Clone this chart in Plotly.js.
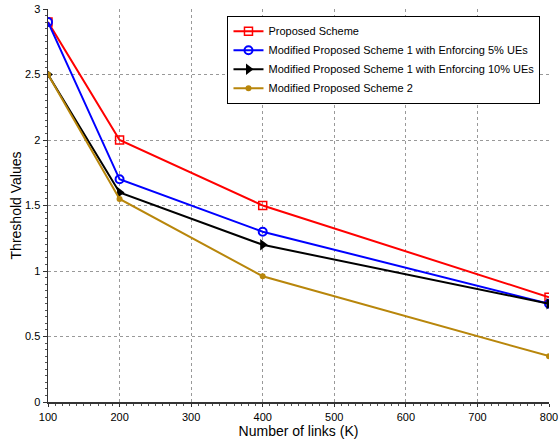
<!DOCTYPE html>
<html><head><meta charset="utf-8">
<script src="https://cdn.plot.ly/plotly-3.0.1.min.js"></script>
<style>html,body{margin:0;padding:0;background:#fff}</style>
</head><body><div id="chart" style="width:560px;height:439px"></div>
<script>
var links = [100, 200, 400, 800];
var proposed = [2.9, 2.0, 1.5, 0.8];
var mod5 = [2.9, 1.7, 1.3, 0.75];
var mod10 = [2.5, 1.6, 1.2, 0.75];
var scheme2 = [2.5, 1.55, 0.96, 0.35];
var names = ['Proposed Scheme','Modified Proposed Scheme 1 with Enforcing 5% UEs','Modified Proposed Scheme 1 with Enforcing 10% UEs','Modified Proposed Scheme 2'];
var xTicks = [100,200,300,400,500,600,700,800];
var yTicks = [0,0.5,1,1.5,2,2.5,3];

var traces = [
 {x: links, y: proposed, name: names[0], mode:'lines+markers', line:{color:'#ff0000', width:2}, marker:{symbol:'square-open', size:8, color:'#ff0000', line:{width:1.5}}},
 {x: links, y: mod5, name: names[1], mode:'lines+markers', line:{color:'#0000ff', width:2}, marker:{symbol:'circle-open', size:8, color:'#0000ff', line:{width:2}}},
 {x: links, y: mod10, name: names[2], mode:'lines+markers', line:{color:'#000000', width:2}, marker:{symbol:'triangle-right', size:10, color:'#000000'}},
 {x: links, y: scheme2, name: names[3], mode:'lines+markers', line:{color:'#b8860b', width:2}, marker:{symbol:'circle', size:6, color:'#b8860b'}}
];
var layout = {
 width:560, height:439,
 margin:{l:48, r:11, t:9, b:37},
 paper_bgcolor:'#fff', plot_bgcolor:'#fff',
 font:{family:'Liberation Sans, Arial, sans-serif', size:11, color:'#000'},
 showlegend:true,
 legend:{x:0.983, y:0.983, xanchor:'right', yanchor:'top', bgcolor:'#fff', bordercolor:'#000', borderwidth:1, font:{size:11}, tracegroupgap:0, itemwidth:30},
 xaxis:{range:[100,800], tickvals:xTicks, ticktext:xTicks.map(String), ticks:'outside', ticklen:3, tickcolor:'#333', ticklabelstandoff:1,
   minor:{dtick:10, ticks:'outside', ticklen:2, tickcolor:'#555', showgrid:false},
   showline:true, linecolor:'#333', linewidth:1.5, mirror:false, showgrid:true, gridcolor:'#999', griddash:'dot', zeroline:false,
   title:{text:'Number of links (K)', font:{size:14}, standoff:4}},
 yaxis:{range:[0,3], tickvals:yTicks, ticktext:yTicks.map(String), ticks:'outside', ticklen:4, tickcolor:'#333',
   minor:{dtick:0.05, ticks:'outside', ticklen:2, tickcolor:'#555', showgrid:false},
   showline:true, linecolor:'#333', linewidth:1.5, showgrid:true, gridcolor:'#999', griddash:'dot', zeroline:false,
   title:{text:'Threshold Values', font:{size:14}, standoff:0}}
};
Plotly.newPlot('chart', traces, layout, {displayModeBar:false, staticPlot:true});
</script></body></html>
